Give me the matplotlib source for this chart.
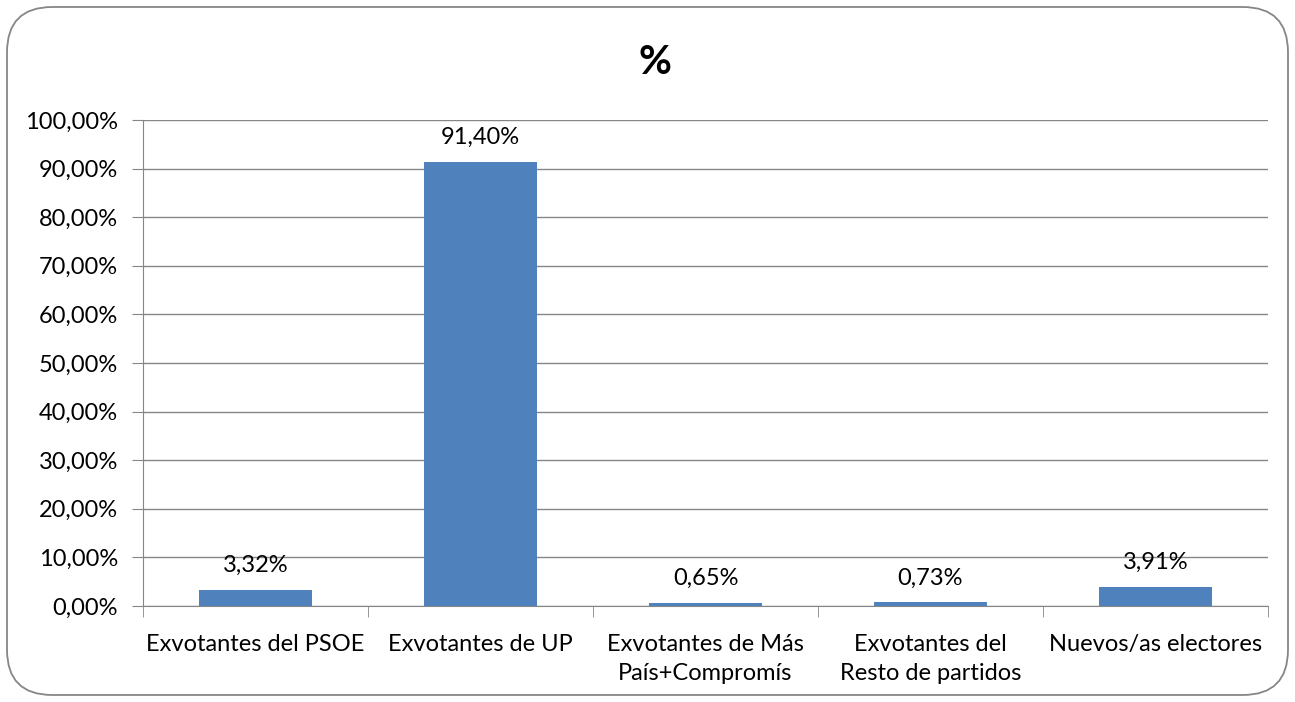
import matplotlib.pyplot as plt
from matplotlib.patches import FancyBboxPatch

categories = ['Exvotantes del PSOE', 'Exvotantes de UP', 'Exvotantes de Más\nPaís+Compromís',
              'Exvotantes del\nResto de partidos', 'Nuevos/as electores']
values = [3.32, 91.40, 0.65, 0.73, 3.91]
labels = ['3,32%', '91,40%', '0,65%', '0,73%', '3,91%']
yticks = list(range(0, 101, 10))

plt.rcParams['font.family'] = ['Lato', 'DejaVu Sans']
gray = '#868686'
fs = 17

fig = plt.figure(figsize=(12.95, 7.02), dpi=100)
ax = fig.add_axes([143 / 1295, 1 - 606 / 702, 1125 / 1295, 486 / 702])

x = list(range(len(categories)))
ax.bar(x, values, width=0.5, color='#4F81BD', zorder=3)
for xi, v, lab in zip(x, values, labels):
    ax.annotate(lab, (xi, v), xytext=(0, 10), textcoords='offset points',
                ha='center', va='bottom', fontsize=fs, zorder=4)

ax.set_xlim(-0.5, len(categories) - 0.5)
ax.set_ylim(0, 100)
ax.set_yticks(yticks)
ax.set_yticklabels([f'{t},00%' for t in yticks], fontsize=fs)
ax.set_xticks(x)
ax.set_xticklabels(categories, fontsize=fs, linespacing=1.5)
ax.set_xticks([i - 0.5 for i in range(len(categories) + 1)], minor=True)
ax.tick_params(axis='x', which='major', length=0, pad=20)
ax.tick_params(axis='x', which='minor', length=8, color=gray)
ax.tick_params(axis='y', length=8, color=gray, pad=10)
ax.grid(axis='y', color=gray, linewidth=1, zorder=0)
for s in ['top', 'right']:
    ax.spines[s].set_visible(False)
for s in ['left', 'bottom']:
    ax.spines[s].set_color(gray)

fig.text(655 / 1295, 1 - 62 / 702, '%', ha='center', va='center', fontsize=29, fontweight='bold')

border = FancyBboxPatch((7 / 1295, 7 / 702), 1281 / 1295, 688 / 702,
                        boxstyle='round,pad=0,rounding_size=0.035', transform=fig.transFigure,
                        facecolor='none', edgecolor=gray, linewidth=1.3, mutation_aspect=1295 / 702)
fig.patches.append(border)

fig.savefig('out.png', dpi=100)
